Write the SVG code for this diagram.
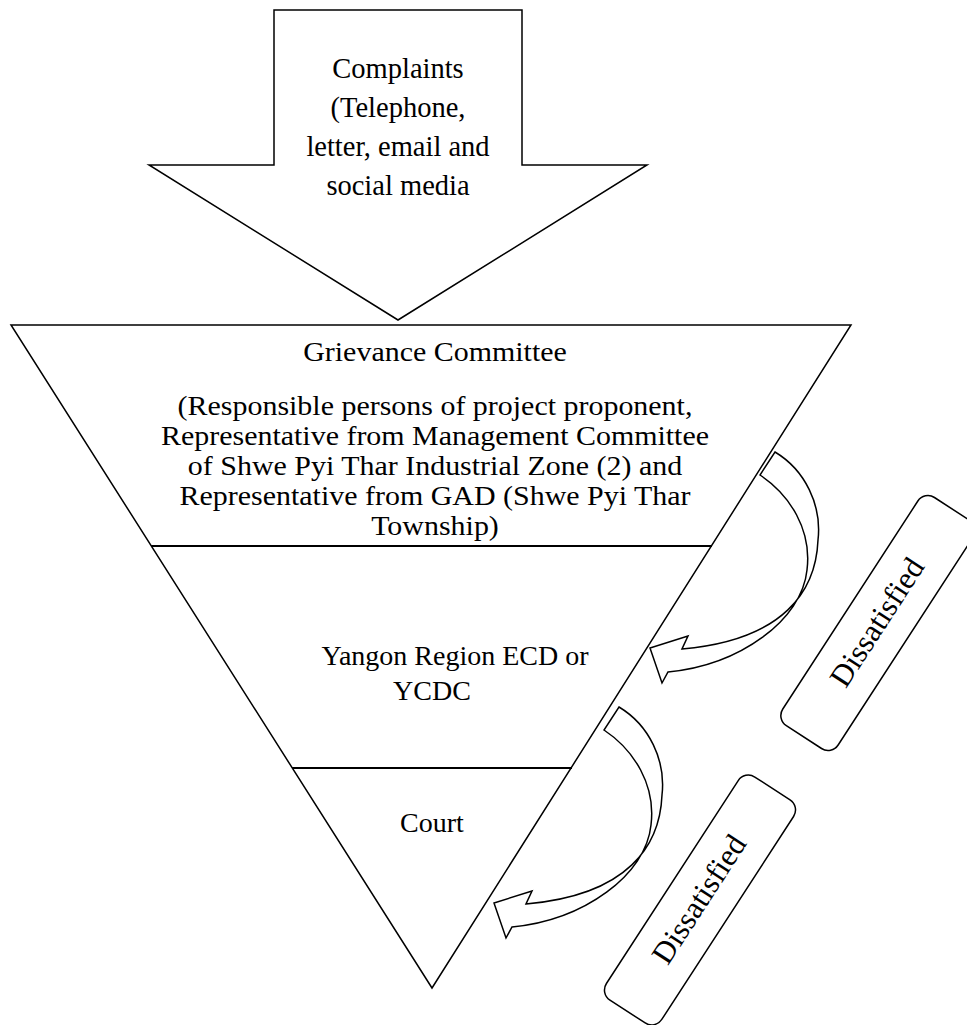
<svg xmlns="http://www.w3.org/2000/svg" width="967" height="1025" viewBox="0 0 967 1025">
<style>
.s{fill:#fff;stroke:#000;stroke-width:1.5}
.t{font-family:"Liberation Serif","Times New Roman",serif;fill:#000;text-anchor:middle}
</style>
<rect width="967" height="1025" fill="#fff"/>
<g id="complaints">
<path class="s" d="M274,10 H522 V165 H647 L398,320 L149,165 H274 Z"/>
<text class="t" font-size="28.5" x="398" y="78">Complaints</text>
<text class="t" font-size="28.5" x="398" y="117">(Telephone,</text>
<text class="t" font-size="28.5" x="398" y="156">letter, email and</text>
<text class="t" font-size="28.5" x="398" y="195">social media</text>
</g>
<g id="pyramid">
<path class="s" d="M11,325 H851 L432,988 Z"/>
<line x1="151" y1="546" x2="712" y2="546" stroke="#000" stroke-width="2"/>
<line x1="292" y1="768" x2="572" y2="768" stroke="#000" stroke-width="2"/>
</g>
<g id="grievance">
<g transform="translate(435,0) scale(1.07,1)">
<text class="t" font-size="28" x="0" y="361">Grievance Committee</text>
<text class="t" font-size="28" x="0" y="415">(Responsible persons of project proponent,</text>
<text class="t" font-size="28" x="0" y="445">Representative from Management Committee</text>
<text class="t" font-size="28" x="0" y="475">of Shwe Pyi Thar Industrial Zone (2) and</text>
<text class="t" font-size="28" x="0" y="505">Representative from GAD (Shwe Pyi Thar</text>
<text class="t" font-size="28" x="0" y="535">Township)</text>
</g>
</g>
<g id="ecd">
<text class="t" font-size="28" x="455" y="665">Yangon Region ECD or</text>
<text class="t" font-size="28" x="432" y="700">YCDC</text>
</g>
<g id="court">
<text class="t" font-size="28" x="432" y="832">Court</text>
</g>
<g id="connectors">
<path id="ca1" class="s" d="M760,475 C790,495 812,530 807,570 C802,620 740,665 668,672 L662,683 L650,648 L688,636 L682,649 C785,640 816,590 818,540 C822,505 805,470 775,452 Z"/>
<use href="#ca1" transform="translate(-156,255)"/>
</g>
<g id="dissatisfied1">
<g transform="translate(878,623) rotate(-57)">
<rect class="s" x="-136" y="-33" width="272" height="66" rx="12"/>
<text class="t" font-size="31" x="0" y="9">Dissatisfied</text>
</g>
</g>
<g id="dissatisfied2">
<g transform="translate(700,900) rotate(-57)">
<rect class="s" x="-133" y="-33" width="266" height="66" rx="12"/>
<text class="t" font-size="31" x="0" y="9">Dissatisfied</text>
</g>
</g>
</svg>
